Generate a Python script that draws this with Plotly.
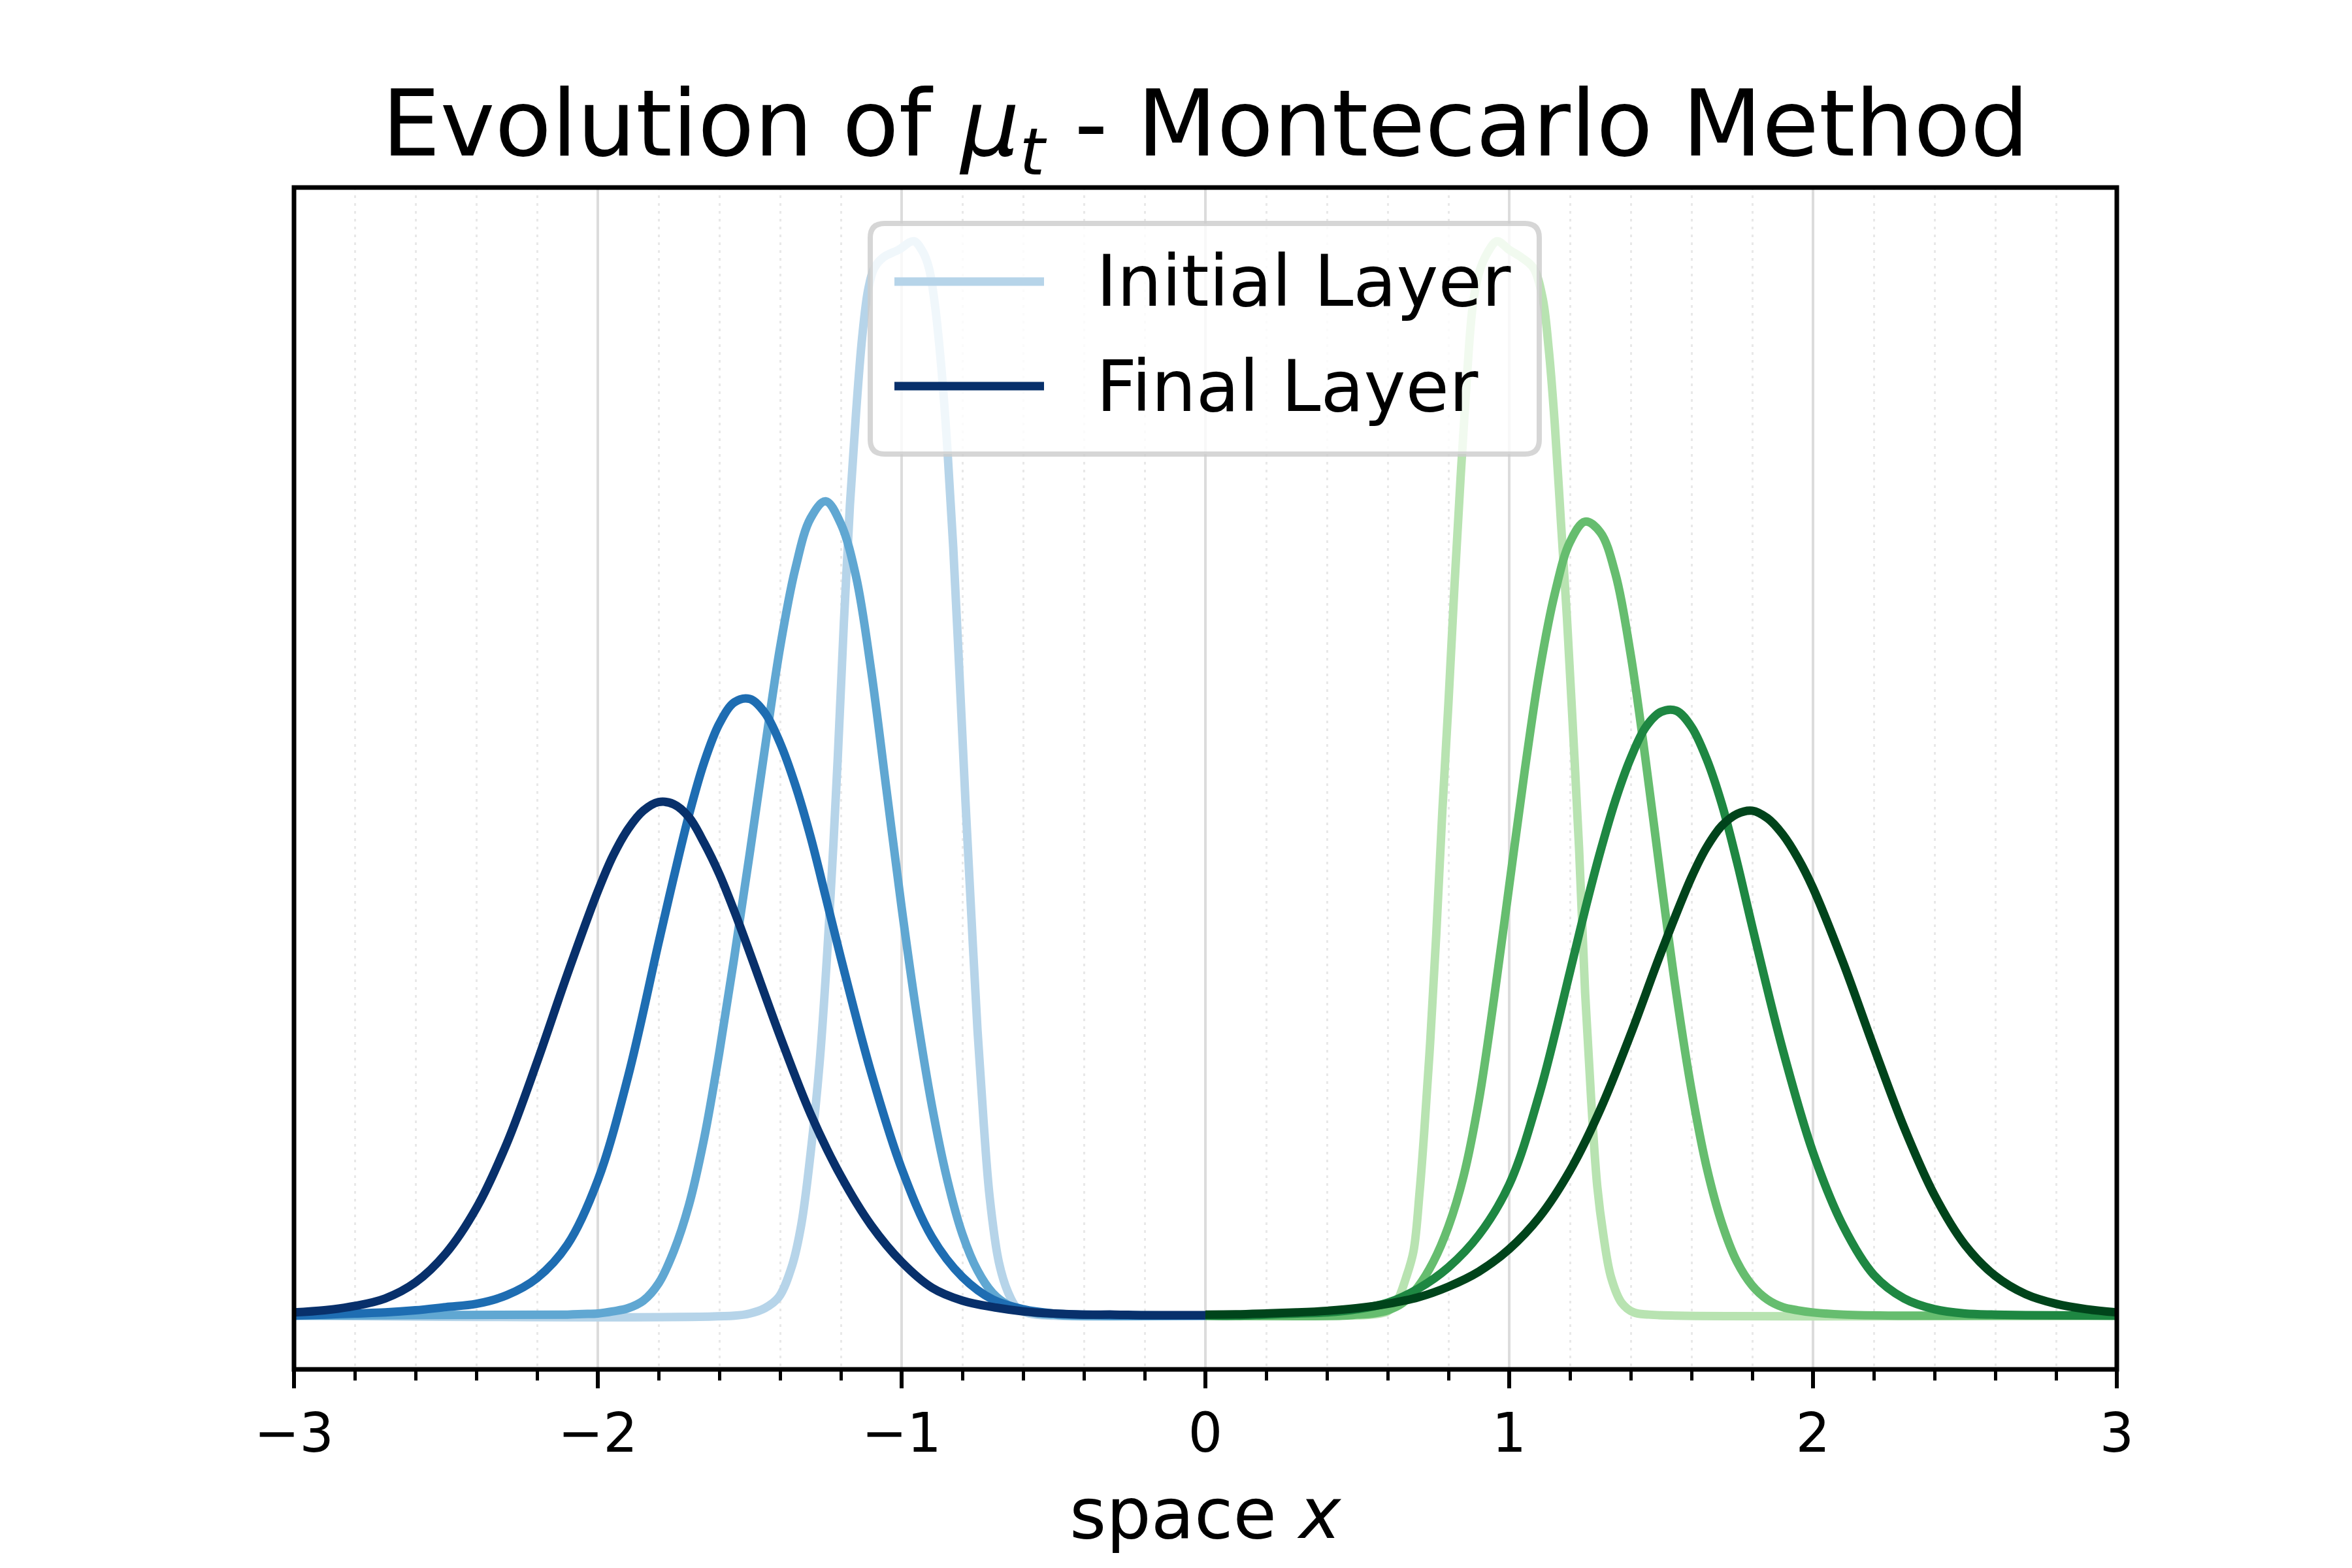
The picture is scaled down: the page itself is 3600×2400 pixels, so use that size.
import plotly.graph_objects as go

# ---------------- data ----------------
# Normalised density values of mu_t; left cluster (Blues) on [-3, 0], right cluster (Greens) on [0, 3]

blue_l0_x = [-3.0, -1.55, -1.50, -1.45, -1.405, -1.36, -1.33, -1.30, -1.27, -1.24, -1.21, -1.19,
             -1.17, -1.15, -1.13, -1.11, -1.09, -1.06, -1.01, -0.96, -0.93, -0.91, -0.89, -0.87,
             -0.85, -0.83, -0.81, -0.79, -0.77, -0.75, -0.73, -0.71, -0.68, -0.65, -0.62, -0.58,
             -0.50, 0.0]
blue_l0_y = [0.0, 0.0, 0.002, 0.007, 0.017, 0.047, 0.085, 0.150, 0.235, 0.360, 0.520, 0.645,
             0.755, 0.840, 0.910, 0.955, 0.975, 0.985, 0.992, 1.0, 0.990, 0.975, 0.940, 0.885,
             0.810, 0.715, 0.600, 0.480, 0.370, 0.265, 0.180, 0.110, 0.050, 0.022, 0.007, 0.002,
             0.0, 0.0]

blue_l1_x = [-3.0, -2.10, -2.05, -2.00, -1.95, -1.90, -1.85, -1.80, -1.75, -1.70, -1.65, -1.60,
             -1.55, -1.50, -1.45, -1.40, -1.35, -1.30, -1.25, -1.20, -1.15, -1.10, -1.05, -1.00,
             -0.95, -0.90, -0.85, -0.80, -0.75, -0.70, -0.65, -0.60, -0.55, -0.50, -0.45, 0.0]
blue_l1_y = [0.0, 0.001, 0.0015, 0.002, 0.004, 0.007, 0.014, 0.030, 0.060, 0.103, 0.165, 0.245,
             0.335, 0.430, 0.528, 0.622, 0.695, 0.742, 0.758, 0.737, 0.688, 0.600, 0.490, 0.380,
             0.280, 0.195, 0.127, 0.076, 0.042, 0.021, 0.010, 0.005, 0.002, 0.001, 0.0, 0.0]

blue_l2_x = [-3.0, -2.9, -2.8, -2.7, -2.6, -2.5, -2.4, -2.3, -2.2, -2.1, -2.0, -1.9, -1.8, -1.75,
             -1.70, -1.65, -1.60, -1.55, -1.50, -1.45, -1.40, -1.35, -1.30, -1.25, -1.2, -1.1,
             -1.0, -0.9, -0.8, -0.7, -0.6, -0.5, -0.4, -0.3, 0.0]
blue_l2_y = [0.0, 0.001, 0.002, 0.003, 0.005, 0.008, 0.011, 0.019, 0.035, 0.066, 0.126, 0.223,
             0.347, 0.408, 0.466, 0.515, 0.551, 0.571, 0.574, 0.561, 0.533, 0.494, 0.446, 0.390,
             0.333, 0.226, 0.137, 0.073, 0.036, 0.015, 0.006, 0.002, 0.001, 0.0005, 0.0]

blue_l3_x = [-3.0, -2.9, -2.8, -2.7, -2.6, -2.5, -2.4, -2.3, -2.2, -2.1, -2.0, -1.95, -1.90,
             -1.85, -1.80, -1.75, -1.70, -1.65, -1.60, -1.55, -1.5, -1.4, -1.3, -1.2, -1.1, -1.0,
             -0.9, -0.8, -0.7, -0.6, -0.5, -0.4, -0.3, -0.2, 0.0]
blue_l3_y = [0.003, 0.005, 0.009, 0.016, 0.031, 0.058, 0.100, 0.160, 0.236, 0.318, 0.395, 0.428,
             0.453, 0.470, 0.478, 0.476, 0.464, 0.440, 0.411, 0.376, 0.338, 0.260, 0.188, 0.130,
             0.084, 0.050, 0.026, 0.014, 0.008, 0.004, 0.002, 0.001, 0.001, 0.0005, 0.0005]

green_l0_x = [0.0, 0.45, 0.55, 0.60, 0.63, 0.66, 0.685, 0.705, 0.72, 0.74, 0.76, 0.78, 0.80,
              0.82, 0.84, 0.86, 0.88, 0.90, 0.93, 0.96, 1.00, 1.04, 1.08, 1.11, 1.13, 1.15,
              1.17, 1.19, 1.21, 1.23, 1.25, 1.27, 1.29, 1.31, 1.335, 1.37, 1.41, 1.46, 1.55, 3.0]
green_l0_y = [0.0, 0.0, 0.001, 0.004, 0.013, 0.035, 0.060, 0.115, 0.170, 0.255, 0.355, 0.470,
              0.570, 0.680, 0.780, 0.870, 0.940, 0.970, 0.990, 1.0, 0.992, 0.985, 0.975, 0.947,
              0.900, 0.830, 0.740, 0.650, 0.545, 0.435, 0.300, 0.200, 0.120, 0.075, 0.036,
              0.012, 0.003, 0.001, 0.0, 0.0]

green_l1_x = [0.0, 0.45, 0.50, 0.55, 0.60, 0.65, 0.70, 0.75, 0.80, 0.85, 0.90, 0.95, 1.00, 1.05,
              1.10, 1.15, 1.20, 1.25, 1.30, 1.35, 1.40, 1.45, 1.50, 1.55, 1.60, 1.65, 1.70, 1.75,
              1.80, 1.85, 1.90, 1.95, 2.00, 2.10, 2.30, 3.0]
green_l1_y = [0.0, 0.0, 0.001, 0.002, 0.005, 0.012, 0.027, 0.050, 0.083, 0.130, 0.200, 0.295,
              0.400, 0.505, 0.600, 0.672, 0.720, 0.739, 0.729, 0.690, 0.615, 0.515, 0.405, 0.300,
              0.210, 0.138, 0.086, 0.050, 0.028, 0.015, 0.008, 0.005, 0.003, 0.001, 0.0, 0.0]

green_l2_x = [0.0, 0.1, 0.2, 0.3, 0.4, 0.5, 0.6, 0.7, 0.8, 0.9, 1.0, 1.1, 1.2, 1.25, 1.3, 1.35,
              1.40, 1.45, 1.50, 1.55, 1.60, 1.65, 1.70, 1.75, 1.8, 1.9, 2.0, 2.1, 2.2, 2.3, 2.4,
              2.5, 2.6, 2.7, 3.0]
green_l2_y = [0.0, 0.0, 0.001, 0.002, 0.003, 0.006, 0.012, 0.025, 0.045, 0.075, 0.122, 0.207,
              0.320, 0.378, 0.432, 0.480, 0.519, 0.548, 0.562, 0.563, 0.548, 0.518, 0.476, 0.422,
              0.362, 0.248, 0.152, 0.083, 0.038, 0.016, 0.006, 0.002, 0.001, 0.0005, 0.0]

green_l3_x = [0.0, 0.1, 0.2, 0.3, 0.4, 0.5, 0.6, 0.7, 0.8, 0.9, 1.0, 1.1, 1.2, 1.3, 1.4, 1.5,
              1.6, 1.65, 1.70, 1.75, 1.80, 1.85, 1.90, 1.95, 2.0, 2.1, 2.2, 2.3, 2.4, 2.5, 2.6,
              2.7, 2.8, 2.9, 3.0]
green_l3_y = [0.001, 0.0012, 0.002, 0.003, 0.0045, 0.007, 0.011, 0.017, 0.027, 0.041, 0.062,
              0.092, 0.135, 0.192, 0.262, 0.338, 0.408, 0.436, 0.456, 0.467, 0.470, 0.463, 0.448,
              0.426, 0.398, 0.328, 0.250, 0.175, 0.112, 0.066, 0.037, 0.020, 0.011, 0.006, 0.003]

blue_colors = ["#b6d4e9", "#60a7d2", "#1e6db2", "#08306b"]
green_colors = ["#b8e3b1", "#66bd6f", "#1e8742", "#00441b"]
layer_names = ["Initial Layer", "Layer 2", "Layer 3", "Final Layer"]

x_tick_vals = [-3, -2, -1, 0, 1, 2, 3]
x_tick_text = ["\u22123", "\u22122", "\u22121", "0", "1", "2", "3"]
legend_labels = ["Initial Layer", "Final Layer"]
legend_colors = [blue_colors[0], blue_colors[3]]

# ---------------- figure geometry ----------------
W, H = 3600, 2400
ML, MR, MT, MB = 450, 360, 287, 304
PW, PH = W - ML - MR, H - MT - MB
FONT = "DejaVu Sans"
LW = 13


def px_x(px):
    return (px - ML) / PW


def px_y(py):
    return (H - MB - py) / PH


blue_series = [(blue_l0_x, blue_l0_y), (blue_l1_x, blue_l1_y), (blue_l2_x, blue_l2_y), (blue_l3_x, blue_l3_y)]
green_series = [(green_l0_x, green_l0_y), (green_l1_x, green_l1_y), (green_l2_x, green_l2_y), (green_l3_x, green_l3_y)]

fig = go.Figure()
for (xs, ys), col, nm in zip(blue_series, blue_colors, layer_names):
    fig.add_trace(go.Scatter(x=xs, y=ys, mode="lines", name=nm, showlegend=False, hoverinfo="skip",
                             line=dict(color=col, width=LW, shape="spline", smoothing=1.0)))
for (xs, ys), col, nm in zip(green_series, green_colors, layer_names):
    fig.add_trace(go.Scatter(x=xs, y=ys, mode="lines", name=nm, showlegend=False, hoverinfo="skip",
                             line=dict(color=col, width=LW, shape="spline", smoothing=1.0)))

ymax = max(max(ys) for _, ys in blue_series + green_series)
minor_vals = [round(-3 + 0.2 * i, 1) for i in range(31) if i % 5 != 0]

fig.update_layout(
    width=W, height=H, autosize=False,
    margin=dict(l=ML, r=MR, t=MT, b=MB, pad=0),
    paper_bgcolor="white", plot_bgcolor="white",
    showlegend=False,
    font=dict(family=FONT, color="black"),
    title=dict(text="Evolution of <i>\u03bc<sub>t</sub></i> - Montecarlo Method",
               x=0.5, xref="paper", xanchor="center",
               y=1 - 188 / H, yref="container", yanchor="middle",
               font=dict(family=FONT, size=141.5, color="black")),
)

fig.update_xaxes(
    range=[-3, 3], tickmode="array", tickvals=x_tick_vals, ticktext=x_tick_text,
    ticks="outside", ticklen=28, tickwidth=6, tickcolor="black",
    tickfont=dict(family=FONT, size=83, color="black"), ticklabelstandoff=-3,
    showline=False, mirror=False,
    showgrid=True, gridcolor="#dcdcdc", gridwidth=4, zeroline=False,
    minor=dict(tickmode="array", tickvals=minor_vals, ticks="outside", ticklen=16, tickwidth=5,
               tickcolor="black", showgrid=True, gridcolor="#e8e8e8", gridwidth=3,
               griddash="4px,8px"),
)
fig.update_yaxes(
    range=[-0.05 * ymax, 1.05 * ymax], showticklabels=False, ticks="",
    showline=False, showgrid=False, zeroline=False,
)

# axes frame (spines centred on the plot-area edge, drawn above the curves)
fig.add_shape(type="rect", xref="paper", yref="paper", x0=0, x1=1, y0=0, y1=1,
              layer="above", line=dict(color="black", width=7), fillcolor="rgba(0,0,0,0)")

# x-axis label
fig.add_annotation(text="space <i>x</i>", xref="paper", yref="paper", x=0.5, y=px_y(2316),
                   xanchor="center", yanchor="middle", showarrow=False,
                   font=dict(family=FONT, size=108, color="black"))

# ---------------- legend (matplotlib-style rounded frame) ----------------
bx0, by0, bx1, by1, rr = 1332, 342, 2356, 695, 22


def P(px, py):
    return f"{px_x(px):.6f},{px_y(py):.6f}"


path = (f"M{P(bx0 + rr, by0)} L{P(bx1 - rr, by0)} Q{P(bx1, by0)} {P(bx1, by0 + rr)} "
        f"L{P(bx1, by1 - rr)} Q{P(bx1, by1)} {P(bx1 - rr, by1)} "
        f"L{P(bx0 + rr, by1)} Q{P(bx0, by1)} {P(bx0, by1 - rr)} "
        f"L{P(bx0, by0 + rr)} Q{P(bx0, by0)} {P(bx0 + rr, by0)} Z")
fig.add_shape(type="path", path=path, xref="paper", yref="paper", layer="above",
              fillcolor="rgba(255,255,255,0.8)", line=dict(color="rgba(204,204,204,0.8)", width=8))

row_y = [431, 591]
for lab, col, ry in zip(legend_labels, legend_colors, row_y):
    fig.add_shape(type="line", xref="paper", yref="paper", layer="above",
                  x0=px_x(1369), x1=px_x(1598), y0=px_y(ry), y1=px_y(ry),
                  line=dict(color=col, width=LW))
    fig.add_annotation(text=lab, xref="paper", yref="paper", x=px_x(1676), y=px_y(ry),
                       xanchor="left", yanchor="middle", showarrow=False,
                       font=dict(family=FONT, size=108, color="black"))

fig.write_html("out.html", config={"displayModeBar": False},
               post_script="document.body.style.margin='0px';")
